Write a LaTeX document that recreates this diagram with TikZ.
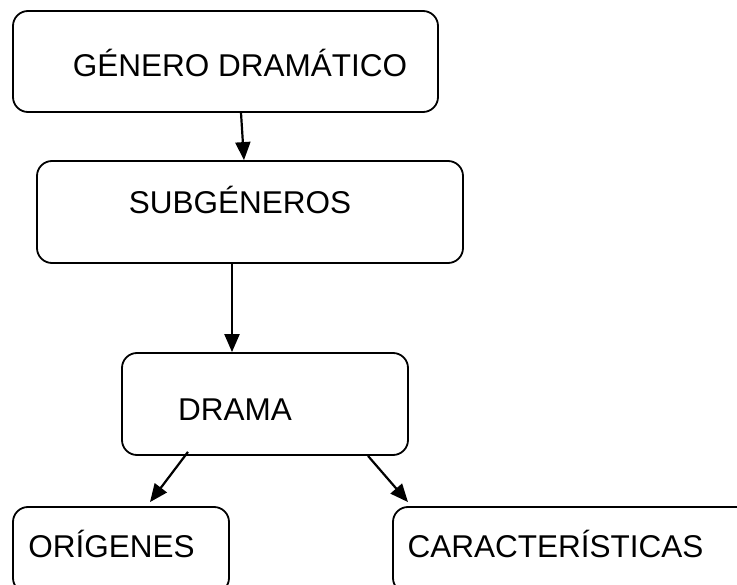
\documentclass[tikz,border=0pt]{standalone}
\usepackage{fontspec}
\setmainfont{Liberation Sans}
\usetikzlibrary{arrows.meta}
\tikzset{
  okvir/.style={draw, rounded corners=15pt, line width=1.8pt, inner sep=0pt},
  napis/.style={anchor=base, font=\fontsize{31.5}{36}\selectfont},
  puscica/.style={-{Triangle[length=18pt,width=15pt]}, line width=2.2pt},
}
\begin{document}
\begin{tikzpicture}[x=1pt, y=-1pt]
  \useasboundingbox (0,0) rectangle (737,585);
  \clip (0,0) rectangle (737,585);
  % okvirji
  \node [okvir, minimum width=425pt, minimum height=101pt] (genero) at (225.5, 61.5) {};
  \node [okvir, minimum width=426pt, minimum height=102pt] (subgeneros) at (250, 212) {};
  \node [okvir, minimum width=286pt, minimum height=102pt] (drama) at (265, 404) {};
  \node [okvir, minimum width=216pt, minimum height=86pt] (origenes) at (121, 550) {};
  \node [okvir, minimum width=367pt, minimum height=86pt] (caracteristicas) at (576.5, 550) {};
  % oznake
  \node [napis] (tgenero) at (240, 77) {GÉNERO DRAMÁTICO};
  \node [napis] (tsubgeneros) at (240, 214) {SUBGÉNEROS};
  \node [napis] (tdrama) at (235, 421) {DRAMA};
  \node [napis] (torigenes) at (111.5, 557) {ORÍGENES};
  \node [napis] (tcaracteristicas) at (555.5, 557) {CARACTERÍSTICAS};
  % puščice
  \draw [puscica] ([xshift=15.5pt]genero.south) -- ([xshift=-6pt]subgeneros.north);
  \draw [puscica] ([xshift=-18pt]subgeneros.south) -- ([xshift=-33pt]drama.north);
  \draw [puscica] ([xshift=-77pt, yshift=4pt]drama.south) -- ([xshift=29pt, yshift=4pt]origenes.north);
  \draw [puscica] ([xshift=103pt]drama.south) -- ([xshift=-168.5pt, yshift=4pt]caracteristicas.north);
\end{tikzpicture}
\end{document}
